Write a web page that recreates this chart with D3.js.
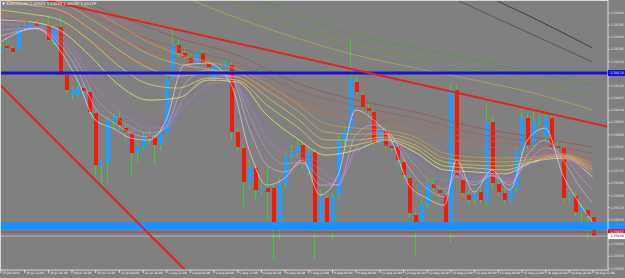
<!DOCTYPE html>
<html>
<head>
<meta charset="utf-8">
<script src="https://cdn.jsdelivr.net/npm/d3@7/dist/d3.min.js"></script>
<style>
  html, body { margin: 0; padding: 0; background: #808080; }
  svg { display: block; }
</style>
</head>
<body>
<div id="chart"></div>
<script>
const fontFamily = "Tahoma, \"DejaVu Sans\", sans-serif";

// ---- data ----------------------------------------------------------------
const symbol = "EURUSD,H4";

const open = [1.34280,1.34298,1.34289,1.34280,1.34379,1.34379,1.34402,1.34388,1.34393,1.34316,
  1.34384,1.34167,1.34077,1.34077,1.34108,1.34090,1.33995,1.33756,1.33774,1.33959,
  1.33973,1.33927,1.33905,1.33814,1.33842,1.33891,1.33882,1.33851,1.33905,1.34153,
  1.34303,1.34266,1.34248,1.34212,1.34266,1.34221,1.34158,1.34199,1.34194,1.34212,
  1.33909,1.33837,1.33679,1.33747,1.33643,1.33656,1.33656,1.33503,1.33679,1.33805,
  1.33814,1.33851,1.33729,1.33819,1.33503,1.33611,1.33503,1.33625,1.33873,1.33918,
  1.34135,1.34077,1.34018,1.34000,1.33864,1.33918,1.33846,1.33842,1.33774,1.33701,
  1.33534,1.33498,1.33584,1.33674,1.33647,1.33625,1.33503,1.34099,1.33692,1.33625,
  1.33602,1.33638,1.33593,1.33955,1.33674,1.33634,1.33597,1.33656,1.33823,1.33973,
  1.33851,1.33955,1.33887,1.33973,1.33846,1.33837,1.33611,1.33620,1.33548,1.33557,
  1.33525];
const high = [1.34307,1.34316,1.34298,1.34393,1.34407,1.34416,1.34416,1.34411,1.34438,1.34393,
  1.34438,1.34176,1.34113,1.34122,1.34126,1.34108,1.34009,1.33792,1.33977,1.33995,
  1.34000,1.33946,1.33918,1.33873,1.33909,1.33918,1.33900,1.33927,1.34162,1.34370,
  1.34325,1.34289,1.34262,1.34280,1.34280,1.34235,1.34226,1.34226,1.34235,1.34230,
  1.33927,1.33851,1.33783,1.33769,1.33692,1.33751,1.33670,1.33701,1.33828,1.33851,
  1.33873,1.33864,1.33837,1.33837,1.33647,1.33625,1.33634,1.33896,1.33936,1.34325,
  1.34167,1.34099,1.34036,1.34018,1.33941,1.33936,1.33873,1.33855,1.33792,1.33715,
  1.33552,1.33602,1.33692,1.33701,1.33665,1.33647,1.34131,1.34122,1.33710,1.33647,
  1.33656,1.33656,1.34031,1.33986,1.33692,1.33656,1.33674,1.33842,1.34018,1.33995,
  1.34000,1.33986,1.33986,1.33986,1.33873,1.33860,1.33638,1.33634,1.33579,1.33575,
  1.33534];
const low = [1.34271,1.34280,1.34257,1.34271,1.34366,1.34370,1.34379,1.34379,1.34316,1.34303,
  1.34158,1.34081,1.34054,1.34063,1.34081,1.33986,1.33706,1.33647,1.33679,1.33918,
  1.33918,1.33873,1.33706,1.33769,1.33828,1.33851,1.33760,1.33828,1.33891,1.34144,
  1.34244,1.34235,1.34208,1.34199,1.34208,1.34190,1.34144,1.34185,1.34181,1.33873,
  1.33819,1.33570,1.33647,1.33602,1.33625,1.33512,1.33331,1.33421,1.33656,1.33783,
  1.33792,1.33738,1.33710,1.33331,1.33484,1.33484,1.33421,1.33607,1.33851,1.33905,
  1.34077,1.34009,1.33986,1.33837,1.33846,1.33828,1.33819,1.33760,1.33692,1.33521,
  1.33344,1.33466,1.33566,1.33638,1.33616,1.33484,1.33408,1.33701,1.33616,1.33579,
  1.33579,1.33584,1.33575,1.33656,1.33620,1.33584,1.33579,1.33638,1.33805,1.33833,
  1.33837,1.33936,1.33873,1.33828,1.33819,1.33593,1.33593,1.33530,1.33466,1.33421,
  1.33430];
const close = [1.34289,1.34289,1.34271,1.34379,1.34388,1.34402,1.34388,1.34398,1.34325,1.34384,
  1.34167,1.34099,1.34099,1.34108,1.34095,1.34000,1.33760,1.33774,1.33959,1.33977,
  1.33941,1.33909,1.33814,1.33842,1.33891,1.33882,1.33851,1.33905,1.34144,1.34303,
  1.34266,1.34248,1.34221,1.34266,1.34221,1.34203,1.34212,1.34208,1.34221,1.33909,
  1.33842,1.33683,1.33747,1.33647,1.33656,1.33638,1.33503,1.33679,1.33805,1.33819,
  1.33846,1.33774,1.33819,1.33503,1.33616,1.33503,1.33616,1.33873,1.33918,1.34149,
  1.34090,1.34022,1.34004,1.33860,1.33918,1.33846,1.33837,1.33783,1.33715,1.33543,
  1.33503,1.33584,1.33674,1.33656,1.33634,1.33503,1.34099,1.33715,1.33634,1.33602,
  1.33634,1.33602,1.33955,1.33679,1.33638,1.33602,1.33656,1.33823,1.33973,1.33851,
  1.33955,1.33964,1.33973,1.33842,1.33837,1.33611,1.33620,1.33548,1.33566,1.33530,
  1.33439];

const timeLabels = ["25 Jul 2014","28 Jul 12:00","29 Jul 04:00","29 Jul 20:00","30 Jul 12:00",
  "31 Jul 04:00","31 Jul 20:00","1 Aug 12:00","4 Aug 04:00","4 Aug 20:00","5 Aug 12:00",
  "6 Aug 04:00","6 Aug 20:00","7 Aug 12:00","8 Aug 04:00","8 Aug 20:00","11 Aug 12:00",
  "12 Aug 04:00","12 Aug 20:00","13 Aug 12:00","14 Aug 04:00","14 Aug 20:00","15 Aug 12:00",
  "18 Aug 04:00","18 Aug 20:00","19 Aug 12:00"];

const priceTicks = [1.34450,1.34395,1.34340,1.34285,1.34230,1.34175,1.34120,1.34065,1.34010,
  1.33955,1.33900,1.33845,1.33790,1.33735,1.33680,1.33625,1.33570,1.33515,1.33460,1.33405,
  1.33350,1.33295];

// fast ribbon (violet), read at these bars
const fastBars = [0,6,10,13,16,19,22,25,28,31,35,39,42,45,48,51,54,57,60,63,66,69,72,75,77,80,83,86,89,92,95,98,100];
const fast1 = [1.34316,1.34379,1.34280,1.34144,1.33964,1.33927,1.33882,1.33873,1.33964,1.34212,1.34221,1.34122,1.33828,1.33670,1.33701,1.33783,1.33625,1.33715,1.34009,1.33964,1.33873,1.33670,1.33611,1.33579,1.33783,1.33638,1.33738,1.33647,1.33873,1.33927,1.33715,1.33579,1.33503];
const fast2 = [1.34343,1.34375,1.34307,1.34190,1.34018,1.33955,1.33905,1.33887,1.33936,1.34122,1.34190,1.34153,1.33927,1.33760,1.33729,1.33769,1.33670,1.33670,1.33896,1.33941,1.33896,1.33747,1.33656,1.33616,1.33729,1.33670,1.33715,1.33670,1.33805,1.33873,1.33783,1.33656,1.33588];
const fast3 = [1.34370,1.34379,1.34325,1.34226,1.34068,1.33986,1.33932,1.33905,1.33927,1.34063,1.34153,1.34162,1.33986,1.33828,1.33765,1.33774,1.33701,1.33670,1.33837,1.33909,1.33891,1.33792,1.33701,1.33652,1.33706,1.33683,1.33710,1.33683,1.33774,1.33837,1.33805,1.33706,1.33647];
const fast4 = [1.34398,1.34388,1.34343,1.34257,1.34113,1.34027,1.33964,1.33927,1.33932,1.34027,1.34122,1.34153,1.34031,1.33882,1.33805,1.33792,1.33738,1.33692,1.33805,1.33873,1.33873,1.33814,1.33738,1.33692,1.33710,1.33701,1.33715,1.33697,1.33756,1.33810,1.33805,1.33738,1.33692];
const fast5 = [1.34425,1.34398,1.34361,1.34289,1.34153,1.34068,1.34000,1.33955,1.33946,1.34009,1.34090,1.34135,1.34063,1.33927,1.33846,1.33814,1.33769,1.33724,1.33792,1.33842,1.33851,1.33819,1.33765,1.33729,1.33729,1.33720,1.33724,1.33710,1.33747,1.33787,1.33796,1.33756,1.33724];

// medium ribbon (yellow to orange)
const midBars = [0,5,10,15,20,25,30,35,40,45,50,55,60,65,70,75,80,85,90,95,100];
const mid1 = [1.34416,1.34407,1.34370,1.34257,1.34122,1.34054,1.34063,1.34144,1.34135,1.33986,1.33882,1.33805,1.33828,1.33873,1.33819,1.33738,1.33729,1.33720,1.33774,1.33792,1.33706];
const mid2 = [1.34461,1.34443,1.34416,1.34325,1.34208,1.34126,1.34108,1.34153,1.34144,1.34031,1.33936,1.33837,1.33851,1.33878,1.33837,1.33756,1.33747,1.33738,1.33774,1.33796,1.33724];
const mid3 = [1.34506,1.34483,1.34461,1.34379,1.34280,1.34199,1.34162,1.34172,1.34158,1.34068,1.33973,1.33873,1.33873,1.33887,1.33851,1.33774,1.33760,1.33756,1.33778,1.33801,1.33738];
const mid4 = [1.34542,1.34520,1.34497,1.34425,1.34339,1.34262,1.34217,1.34194,1.34176,1.34099,1.34009,1.33909,1.33900,1.33900,1.33869,1.33792,1.33778,1.33774,1.33787,1.33805,1.33751];
const mid5 = [1.34574,1.34551,1.34529,1.34470,1.34393,1.34316,1.34262,1.34226,1.34194,1.34126,1.34040,1.33946,1.33927,1.33918,1.33887,1.33814,1.33796,1.33792,1.33796,1.33810,1.33765];

// slower ribbon (red to brown)
const slowBars = [0,10,20,30,40,50,60,70,80,90,100];
const slow1 = [1.34438,1.34393,1.34257,1.34190,1.34153,1.34031,1.33964,1.33918,1.33851,1.33819,1.33751];
const slow2 = [1.34506,1.34452,1.34325,1.34244,1.34190,1.34063,1.33995,1.33946,1.33878,1.33842,1.33783];
const slow3 = [1.34560,1.34506,1.34379,1.34289,1.34221,1.34099,1.34027,1.33973,1.33905,1.33864,1.33814];
const slow4 = [1.34619,1.34551,1.34434,1.34334,1.34257,1.34131,1.34054,1.34000,1.33932,1.33887,1.33842];

// longest averages, upper right
const longBarsA = [60,70,80,90,100];
const long1 = [1.34822,1.34687,1.34551,1.34425,1.34289];
const long2 = [1.34732,1.34596,1.34470,1.34348,1.34226];
const longBarsB = [40,50,60,70,80,90,100];
const long3 = [1.34551,1.34438,1.34348,1.34289,1.34235,1.34181,1.34122];
const longBarsC = [30,40,50,60,70,80,90,100];
const long4 = [1.34596,1.34483,1.34379,1.34303,1.34244,1.34190,1.34135,1.34068];
const longBarsD = [20,30,40,50,60,70,80,90,100];
const long5 = [1.34642,1.34529,1.34425,1.34334,1.34257,1.34199,1.34144,1.34086,1.34009];

// chart objects
const resistanceLevel = 1.34176;
const zoneHigh = 1.33503;
const zoneLow = 1.33466;
const supportLevel = 1.33457;
const trendDown = [[10, 1.34491], [100, 1.33949]];
const trendSteep = [[0, 1.34120], [30, 1.33317]];

// ---- layout ----------------------------------------------------------------
const width = 625;
const height = 278;
const plotW = 608;
const plotH = 270;
const axisFont = "3.2px";

const svg = d3.select("#chart").append("svg")
  .attr("width", width)
  .attr("height", height)
  .style("font-family", fontFamily);

svg.append("rect").attr("width", width).attr("height", height).attr("fill", "#808080");

const x = d3.scaleLinear().domain([0, 100]).range([0.5, 592.5]);
const y = d3.scaleLinear().domain([1.33286, 1.34506]).range([plotH, 0]);

svg.append("clipPath").attr("id", "plot-clip")
  .append("rect").attr("width", plotW).attr("height", plotH);

const plot = svg.append("g").attr("clip-path", "url(#plot-clip)");

// ---- candles ---------------------------------------------------------------
const bars = d3.range(open.length).map(i => ({
  i: i, o: open[i], h: high[i], l: low[i], c: close[i]
}));

const candles = plot.append("g").attr("shape-rendering", "crispEdges");

candles.selectAll("line.wick")
  .data(bars)
  .enter()
  .append("line")
  .classed("wick", true)
  .attr("x1", d => Math.round(x(d.i)) + 0.5)
  .attr("x2", d => Math.round(x(d.i)) + 0.5)
  .attr("y1", d => y(d.h))
  .attr("y2", d => y(d.l))
  .attr("stroke", "#36d236")
  .attr("stroke-width", 1);

candles.selectAll("rect.body")
  .data(bars)
  .enter()
  .append("rect")
  .classed("body", true)
  .attr("x", d => Math.round(x(d.i)) - 1.5)
  .attr("width", 4)
  .attr("y", d => y(Math.max(d.o, d.c)))
  .attr("height", d => Math.max(1.5, Math.abs(y(d.o) - y(d.c))))
  .attr("fill", d => d.c >= d.o ? "#1e9eff" : "#f41a0a");

// ---- moving averages -------------------------------------------------------
const maLine = d3.line()
  .x(d => x(d[0]))
  .y(d => y(d[1]))
  .curve(d3.curveMonotoneX);

const series = [
  { bars: longBarsD, values: long5, color: "#b4b444" },
  { bars: longBarsC, values: long4, color: "#6aa83c" },
  { bars: longBarsB, values: long3, color: "#4c9a3c" },
  { bars: longBarsA, values: long2, color: "#3c4a30" },
  { bars: longBarsA, values: long1, color: "#1a1a1a" },
  { bars: slowBars, values: slow4, color: "#a84a40" },
  { bars: slowBars, values: slow3, color: "#b8504a" },
  { bars: slowBars, values: slow2, color: "#c85a48" },
  { bars: slowBars, values: slow1, color: "#d66a44" },
  { bars: midBars, values: mid5, color: "#e09a3a" },
  { bars: midBars, values: mid4, color: "#e8b244" },
  { bars: midBars, values: mid3, color: "#f0c850" },
  { bars: midBars, values: mid2, color: "#f4de5c" },
  { bars: midBars, values: mid1, color: "#ffff66" },
  { bars: fastBars, values: fast5, color: "#9460c4" },
  { bars: fastBars, values: fast4, color: "#a874d4" },
  { bars: fastBars, values: fast3, color: "#c08ce0" },
  { bars: fastBars, values: fast2, color: "#d8a8ec" },
  { bars: fastBars, values: fast1, color: "#f0d4f4" }
];

plot.append("g")
  .classed("averages", true)
  .selectAll("path")
  .data(series)
  .enter()
  .append("path")
  .attr("d", s => maLine(s.bars.map((b, k) => [b, s.values[k]])))
  .attr("fill", "none")
  .attr("stroke", s => s.color)
  .attr("stroke-opacity", 0.85)
  .attr("stroke-width", 0.8);

// ---- objects ---------------------------------------------------------------
function extend(points) {
  const [p0, p1] = points;
  const slope = (p1[1] - p0[1]) / (p1[0] - p0[0]);
  const a = -10, b = 110;
  return [[a, p0[1] + (a - p0[0]) * slope], [b, p0[1] + (b - p0[0]) * slope]];
}

const objects = svg.append("g");

objects.append("rect")
  .attr("x", 0)
  .attr("width", width)
  .attr("y", y(zoneHigh))
  .attr("height", y(zoneLow) - y(zoneHigh))
  .attr("fill", "#1e90ff");

objects.append("line")
  .attr("x1", 0).attr("x2", plotW)
  .attr("y1", y(supportLevel)).attr("y2", y(supportLevel))
  .attr("stroke", "#a8503c").attr("stroke-width", 1.2);

objects.append("line")
  .attr("x1", 0).attr("x2", plotW)
  .attr("y1", y(close[close.length - 1])).attr("y2", y(close[close.length - 1]))
  .attr("stroke", "#c8c8c8").attr("stroke-width", 0.8);

objects.append("line")
  .attr("x1", 0).attr("x2", plotW)
  .attr("y1", y(resistanceLevel)).attr("y2", y(resistanceLevel))
  .attr("stroke", "#1414d8").attr("stroke-width", 3);

const trendLine = d3.line().x(d => x(d[0])).y(d => y(d[1]));
const trendGroup = objects.append("g").attr("clip-path", "url(#plot-clip)");
[trendDown, trendSteep].forEach(t => {
  trendGroup.append("path")
    .attr("d", trendLine(extend(t)))
    .attr("stroke", "#e4201c")
    .attr("stroke-width", 2)
    .attr("fill", "none");
});

// ---- frame and axes ------------------------------------------------------
svg.append("rect")
  .attr("x", 0.5).attr("y", 0.5)
  .attr("width", plotW - 0.5).attr("height", plotH - 0.5)
  .attr("fill", "none")
  .attr("stroke", "#d8d8d8")
  .attr("stroke-width", 1);

const priceAxis = svg.append("g")
  .attr("transform", `translate(${plotW},0)`)
  .call(d3.axisRight(y).tickValues(priceTicks).tickSize(1.5).tickPadding(1).tickFormat(d3.format(".5f")));
priceAxis.select(".domain").remove();
priceAxis.selectAll("line").attr("stroke", "#e0e0e0");
priceAxis.selectAll("text")
  .attr("fill", "#f4f4f4")
  .style("font-size", axisFont)
  .style("font-family", fontFamily);

const timeAxis = svg.append("g")
  .attr("transform", `translate(0,${plotH})`)
  .call(d3.axisBottom(x).tickValues(d3.range(0, 101, 4)).tickSize(3)
    .tickFormat((d, i) => timeLabels[i]));
timeAxis.select(".domain").remove();
timeAxis.selectAll("line").attr("stroke", "#e0e0e0");
timeAxis.selectAll("text")
  .attr("fill", "#f4f4f4")
  .attr("text-anchor", "start")
  .attr("x", 1.5)
  .attr("y", 2)
  .attr("dy", "0.71em")
  .style("font-size", "3px")
  .style("font-family", fontFamily);

// highlighted price labels
function priceTag(value, bg, fg) {
  const g = svg.append("g").attr("transform", `translate(${plotW},${y(value)})`);
  g.append("rect").attr("x", 0).attr("y", -3).attr("width", width - plotW).attr("height", 6).attr("fill", bg);
  g.append("text")
    .attr("x", 2.5).attr("dy", "0.35em")
    .attr("fill", fg)
    .style("font-size", axisFont)
    .text(d3.format(".5f")(value));
}
priceTag(resistanceLevel, "#1414d8", "#ffffff");
priceTag(supportLevel, "#e01818", "#ffffff");
priceTag(close[close.length - 1], "#ffffff", "#000000");

// title
const last = close.length - 1;
const fmt = d3.format(".5f");
svg.append("text")
  .attr("x", 2).attr("y", 5)
  .attr("fill", "#f4f4f4")
  .style("font-size", "3.8px")
  .text(`\u25BC ${symbol}  ${fmt(open[last])} ${fmt(high[last])} ${fmt(low[last])} ${fmt(close[last])}`);
</script>
</body>
</html>
